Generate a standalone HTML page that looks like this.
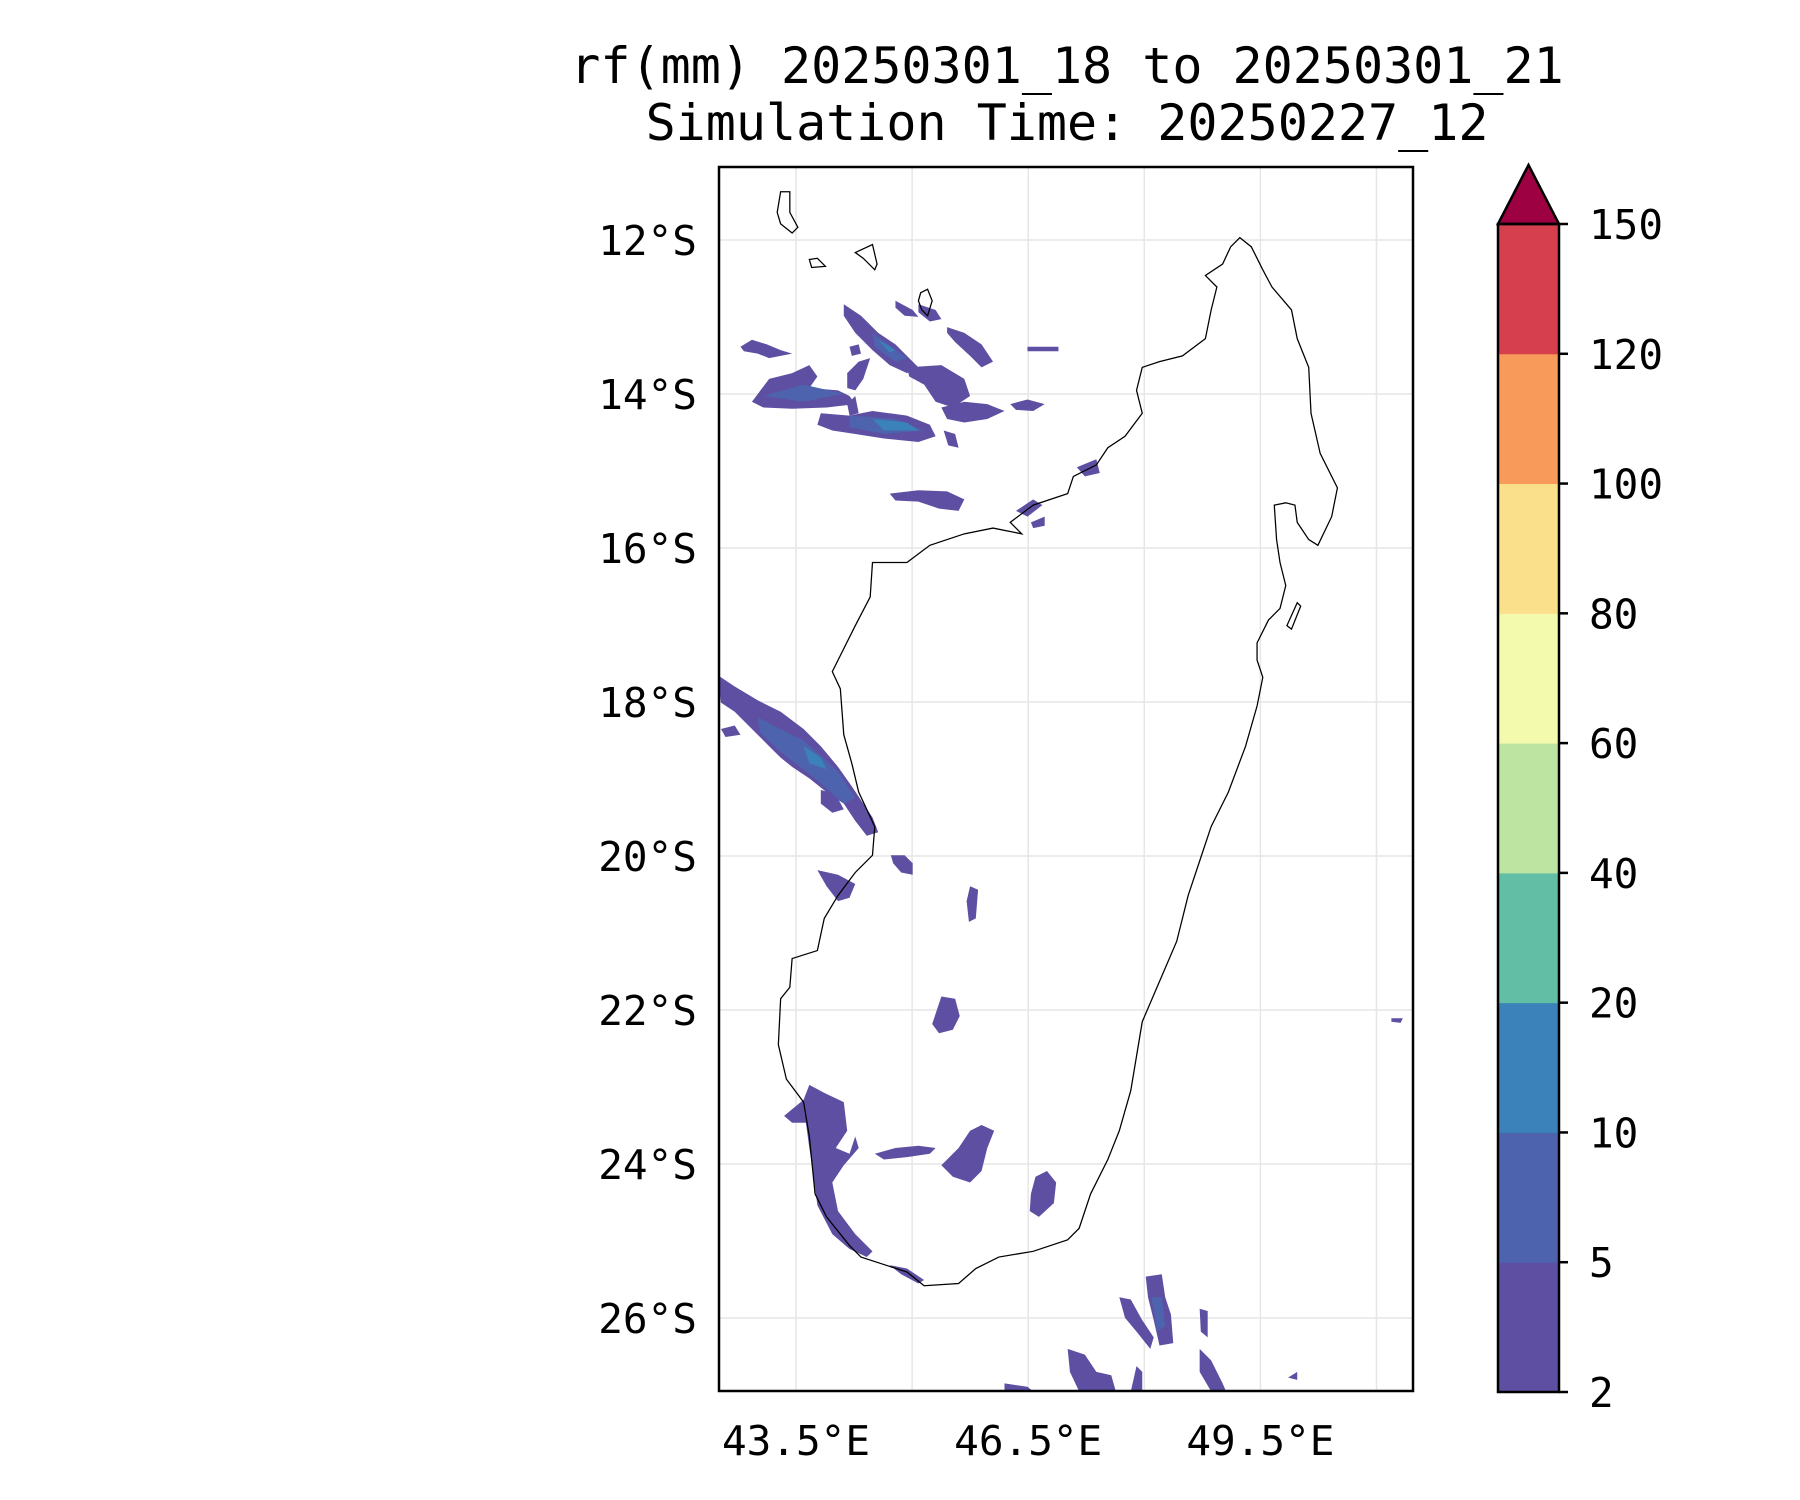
<!DOCTYPE html>
<html><head><meta charset="utf-8"><style>
html,body{margin:0;padding:0;background:#fff;}
svg{display:block;}
text{font-family:"DejaVu Sans Mono","Liberation Mono",monospace;fill:#000;}
</style></head><body>
<svg id="chart" width="1800" height="1500" viewBox="0 0 1800 1500" xmlns="http://www.w3.org/2000/svg">
<text x="1067" y="83" font-size="50" text-anchor="middle">rf(mm) 20250301_18 to 20250301_21</text>
<text x="1067" y="140" font-size="50" text-anchor="middle">Simulation Time: 20250227_12</text>
<defs><clipPath id="mapclip"><rect x="719" y="167" width="694" height="1224"/></clipPath></defs>
<g id="grid"></g>
<g clip-path="url(#mapclip)">
<g transform="scale(1.148)" fill="#5e4fa2">
<path d="M655,350 L670,330 L690,325 L705,318 L712,328 L705,338 L730,340 L740,345 L745,352 L720,355 L690,356 L665,355 Z"/>
<path d="M645,302 L655,296 L668,300 L680,305 L690,308 L670,312 L660,308 L648,306 Z"/>
<path d="M735,265 L750,275 L765,290 L780,300 L790,310 L800,320 L790,325 L775,318 L760,305 L745,290 L735,275 Z"/>
<path d="M738,325 L748,315 L758,312 L752,330 L745,340 L738,338 Z"/>
<path d="M740,302 L748,300 L750,308 L742,310 Z"/>
<path d="M715,360 L740,362 L760,358 L790,362 L810,370 L815,380 L800,385 L770,382 L745,378 L725,375 L712,370 Z"/>
<path d="M738,352 L745,345 L748,360 L740,362 Z"/>
<path d="M790,320 L820,318 L840,330 L845,345 L830,355 L815,350 L805,335 L792,328 Z"/>
<path d="M820,355 L840,350 L860,352 L875,358 L860,365 L840,368 L825,365 Z"/>
<path d="M800,265 L815,270 L820,278 L810,280 L800,272 Z"/>
<path d="M780,262 L795,270 L800,276 L788,275 L780,268 Z"/>
<path d="M825,285 L840,290 L855,300 L865,315 L855,320 L845,310 L832,298 L825,290 Z"/>
<path d="M880,352 L895,348 L910,352 L900,358 L885,357 Z"/>
<path d="M895,302 L922,302 L922,306 L895,306 Z"/>
<path d="M822,375 L832,378 L835,390 L826,388 Z"/>
<path d="M775,430 L800,427 L825,428 L840,435 L835,445 L818,443 L800,437 L780,436 Z"/>
<path d="M938,407 L955,400 L958,412 L945,415 Z"/>
<path d="M885,445 L900,435 L908,440 L895,450 Z"/>
<path d="M898,455 L910,450 L910,458 L900,460 Z"/>
<path d="M625,588 L640,598 L660,610 L680,620 L700,635 L715,650 L730,668 L742,685 L752,700 L760,712 L765,725 L755,728 L745,715 L735,700 L720,690 L705,678 L690,668 L680,660 L670,650 L660,640 L650,630 L640,620 L628,612 Z"/>
<path d="M628,635 L640,632 L645,640 L632,642 Z"/>
<path d="M715,688 L728,692 L735,705 L725,708 L715,700 Z"/>
<path d="M712,758 L730,762 L745,770 L740,782 L730,785 L720,772 Z"/>
<path d="M776,745 L788,745 L795,752 L795,762 L785,760 L778,752 Z"/>
<path d="M845,772 L852,775 L850,800 L844,803 L842,785 Z"/>
<path d="M820,868 L832,870 L836,885 L830,897 L818,900 L812,892 Z"/>
<path d="M683,972 L700,958 L705,945 L718,952 L735,960 L738,985 L728,1000 L740,1005 L745,990 L748,1000 L735,1015 L725,1030 L730,1055 L745,1075 L760,1090 L755,1095 L740,1088 L725,1075 L712,1050 L708,1020 L705,1000 L702,978 L690,978 Z"/>
<path d="M762,1005 L780,1000 L800,998 L815,1000 L810,1005 L790,1008 L770,1010 Z"/>
<path d="M820,1015 L835,1000 L845,985 L855,980 L866,985 L860,1000 L855,1020 L845,1030 L830,1025 Z"/>
<path d="M898,1040 L902,1025 L912,1020 L920,1030 L918,1048 L905,1060 L897,1055 Z"/>
<path d="M775,1102 L790,1105 L805,1115 L800,1118 L785,1110 Z"/>
<path d="M975,1130 L985,1132 L995,1150 L1005,1165 L1002,1175 L990,1160 L980,1148 Z"/>
<path d="M998,1112 L1012,1110 L1015,1130 L1020,1145 L1022,1170 L1010,1172 L1005,1150 L1000,1130 Z"/>
<path d="M930,1175 L945,1180 L955,1195 L968,1198 L972,1212 L940,1212 L932,1195 Z"/>
<path d="M990,1190 L995,1195 L995,1212 L985,1212 Z"/>
<path d="M1045,1175 L1055,1185 L1065,1205 L1068,1212 L1055,1212 L1045,1195 Z"/>
<path d="M875,1205 L895,1208 L900,1212 L875,1212 Z"/>
<path d="M1045,1140 L1052,1142 L1052,1165 L1046,1160 Z"/>
<path d="M1122,1200 L1130,1195 L1130,1202 Z"/>
<path d="M1212,887 L1222,887 L1220,891 L1212,890 Z"/>
</g>
<g transform="scale(1.148)" fill="#4e63ad">
<path d="M665,345 L700,335 L735,343 L700,350 Z"/>
<path d="M740,362 L780,365 L805,375 L770,378 L740,372 Z"/>
<path d="M760,290 L790,312 L780,315 L762,302 Z"/>
<path d="M660,625 L700,645 L730,672 L745,695 L735,700 L710,678 L680,655 L662,638 Z"/>
<path d="M1003,1130 L1012,1130 L1015,1155 L1008,1160 Z"/>
</g>
<g transform="scale(1.148)" fill="#3a82b9">
<path d="M760,365 L790,368 L800,375 L770,375 Z"/>
<path d="M700,650 L715,660 L720,670 L705,665 Z"/>
<path d="M765,296 L780,305 L775,307 Z"/>
</g>
<g transform="scale(1.148)" fill="none" stroke="#000" stroke-width="1.1">
<path d="M1080,207 L1090,215 L1100,235 L1108,250 L1125,270 L1130,295 L1140,320 L1142,360 L1150,395 L1165,425 L1160,450 L1148,475 L1140,470 L1130,455 L1128,440 L1120,438 L1110,440 L1112,470 L1115,490 L1120,510 L1115,530 L1105,540 L1095,560 L1095,575 L1100,590 L1095,615 L1085,650 L1070,690 L1055,720 L1045,750 L1035,780 L1025,820 L1010,855 L995,890 L990,920 L985,950 L975,985 L965,1010 L950,1040 L940,1070 L930,1080 L900,1090 L870,1095 L850,1105 L835,1118 L805,1120 L790,1108 L750,1095 L740,1085 L720,1060 L710,1040 L705,990 L700,960 L685,940 L678,910 L680,870 L688,860 L690,835 L712,828 L718,800 L730,780 L745,760 L760,745 L762,720 L748,690 L742,665 L735,640 L732,600 L725,585 L735,565 L745,545 L758,520 L760,490 L790,490 L810,475 L840,465 L865,460 L890,465 L880,455 L900,440 L930,430 L935,415 L955,405 L965,390 L980,380 L995,360 L990,340 L995,320 L1010,315 L1030,310 L1050,295 L1055,270 L1060,250 L1050,240 L1065,230 L1072,215 Z"/>
<path d="M680,167 L688,167 L688,185 L695,198 L690,203 L680,195 L677,185 Z"/>
<path d="M705,226 L712,225 L719,232 L707,233 Z"/>
<path d="M745,220 L760,213 L764,230 L762,235 L752,225 Z"/>
<path d="M802,255 L808,252 L812,262 L808,275 L803,270 L800,262 Z"/>
<path d="M1130,525 L1133,528 L1125,548 L1121,545 Z"/>
</g>
</g>
<rect x="719" y="167" width="694" height="1224" fill="none" stroke="#000" stroke-width="2.5"/>
<g id="yticks"></g>
<g id="xticks"></g>
<g id="cbar"></g>
<script>
const latTicks=[12,14,16,18,20,22,24,26];
const lonTicks=[43.5,46.5,49.5];
const lonGrid=[43.5,45,46.5,48,49.5,51];
const cbLevels=[2,5,10,20,40,60,80,100,120,150];
const cbColors=["#5e4fa2","#4e63ad","#3a82b9","#63bea6","#bde4a0","#f3f9ad","#fbe08b","#f89b5a","#d63f4d"];
const cbExtendColor="#9e0142";
const NS="http://www.w3.org/2000/svg";
function X(lon){return 796+(lon-43.5)*77.4;}
function Y(lat){return 240+(lat-12)*77;}
function cbY(i){return 1392-i*(1392-224)/(cbLevels.length-1);}
function mk(tag,attrs,parent){const e=document.createElementNS(NS,tag);for(const k in attrs)e.setAttribute(k,attrs[k]);parent.appendChild(e);return e;}
const grid=document.getElementById('grid');
lonGrid.forEach(l=>{const ln=mk('line',{x1:X(l),x2:X(l),y1:167,y2:1391,stroke:'#e6e6e6','stroke-width':1.5},grid);

});
latTicks.forEach(l=>{const ln=mk('line',{x1:719,x2:1413,y1:Y(l),y2:Y(l),stroke:'#e6e6e6','stroke-width':1.5},grid);

});
const yt=document.getElementById('yticks');
latTicks.forEach(l=>{const t=mk('text',{x:697,y:Y(l)+15,'font-size':41,'text-anchor':'end'},yt);t.textContent=l+'°S';

});
const xt=document.getElementById('xticks');
lonTicks.forEach(l=>{const t=mk('text',{x:X(l),y:1455,'font-size':41,'text-anchor':'middle'},xt);t.textContent=l.toFixed(1)+'°E';

});
const cb=document.getElementById('cbar');
const cx0=1498,cx1=1559;
cbColors.forEach((c,i)=>{const r=mk('rect',{x:cx0,y:cbY(i+1),width:cx1-cx0,height:cbY(i)-cbY(i+1)+0.5,fill:c},cb);

});
const tri=mk('polygon',{points:`${cx0},${cbY(cbLevels.length-1)} ${(cx0+cx1)/2},165 ${cx1},${cbY(cbLevels.length-1)}`,fill:cbExtendColor,stroke:'#000','stroke-width':2.5},cb);


const out=mk('rect',{x:cx0,y:cbY(cbLevels.length-1),width:cx1-cx0,height:cbY(0)-cbY(cbLevels.length-1),fill:'none',stroke:'#000','stroke-width':2.5},cb);


cbLevels.forEach((v,i)=>{mk('line',{x1:cx1,x2:cx1+9,y1:cbY(i),y2:cbY(i),stroke:'#000','stroke-width':2.5},cb);
const t=mk('text',{x:cx1+30,y:cbY(i)+15,'font-size':41},cb);t.textContent=v;

});
</script>
</svg>
</body></html>
